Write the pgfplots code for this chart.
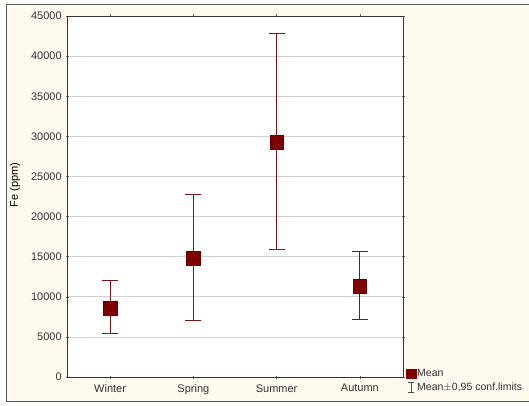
\documentclass[border=0pt]{standalone}
\usepackage{pgfplots}
\pgfplotsset{compat=1.18}
\usepackage{fontspec}
\setmainfont{Liberation Sans}
\definecolor{cream}{HTML}{FFF9EE}
\definecolor{meanred}{HTML}{7F0000}
\definecolor{barred}{HTML}{7A1616}
\definecolor{txt}{HTML}{333333}
\begin{document}
\fontsize{11pt}{13pt}\selectfont
\begin{tikzpicture}
\useasboundingbox (0pt,0pt) rectangle (529pt,406pt);
\fill[white] (0pt,0pt) rectangle (529pt,406pt);
\draw[fill=cream, draw=black!65, line width=1.5pt] (6.5pt,4.5pt) rectangle (540pt,401.5pt);
\begin{axis}[
  at={(67pt,29pt)}, anchor=south west,
  scale only axis, width=336pt, height=361pt,
  xmin=-0.518, xmax=3.518, ymin=0, ymax=45000,
  axis background/.style={fill=white},
  axis line style={black!80, line width=0.8pt},
  xtick={0,1,2,3}, xticklabels={Winter,Spring,Summer,Autumn},
  ytick={0,5000,...,45000},
  ymajorgrids, grid style={black!18, line width=0.6pt},
  scaled y ticks=false,
  /pgf/number format/assume math mode=true,
  yticklabel style={/pgf/number format/fixed, /pgf/number format/1000 sep={}, font=\fontsize{11pt}{13pt}\selectfont, text=txt},
  xticklabel style={font=\fontsize{11pt}{13pt}\selectfont, text=txt, yshift=-2pt},
  tick style={black!60, line width=0.5pt},
  major tick length=3pt, tick align=center,
  ylabel={Fe (ppm)},
  ylabel style={font=\fontsize{11pt}{13pt}\selectfont, text=txt},
  every axis y label/.style={at={(rel axis cs:0,0.532)}, xshift=-52pt, rotate=90, anchor=center},
  legend style={at={(rel axis cs:1,0)}, anchor=south west, xshift=3pt, yshift=-16pt, draw=none, fill=none, inner sep=0pt, row sep=2.5pt,
    nodes={inner sep=1pt, font=\fontsize{10.5pt}{12pt}\selectfont, text=txt}},
  legend cell align=left,
]
\addlegendimage{legend image code/.code={
  \fill[meanred] (0pt,-4.8pt) rectangle (9.6pt,4.8pt);}}
\addlegendentry{Mean}
\addlegendimage{legend image code/.code={
  \draw[black!70, line width=0.6pt] (4.8pt,-5pt) -- (4.8pt,5pt);
  \draw[black!70, line width=0.6pt] (1.8pt,5pt) -- (7.8pt,5pt);
  \draw[black!70, line width=0.6pt] (1.8pt,-5pt) -- (7.8pt,-5pt);}}
\addlegendentry{Mean$\pm$0,95 conf.limits}
\addplot[draw=none, mark=none, barred, line width=0.8pt, forget plot,
  error bars/.cd, y dir=both, y explicit,
  error bar style={barred, line width=0.8pt},
  error mark options={barred, mark size=8pt, line width=0.8pt, rotate=90}]
  coordinates {
  (0,8570) += (0,3430) -= (0,3170)
  (1,14800) += (0,7900) -= (0,7730)
  (2,29300) += (0,13510) -= (0,13340)
  (3,11310) += (0,4315) -= (0,4160)
  };
\addplot[only marks, mark=square*, mark size=6.8pt, mark options={fill=meanred, draw=meanred!80!black, line width=0.4pt},
  forget plot]
  coordinates {(0,8570) (1,14800) (2,29300) (3,11310)};
\end{axis}
\end{tikzpicture}
\end{document}
